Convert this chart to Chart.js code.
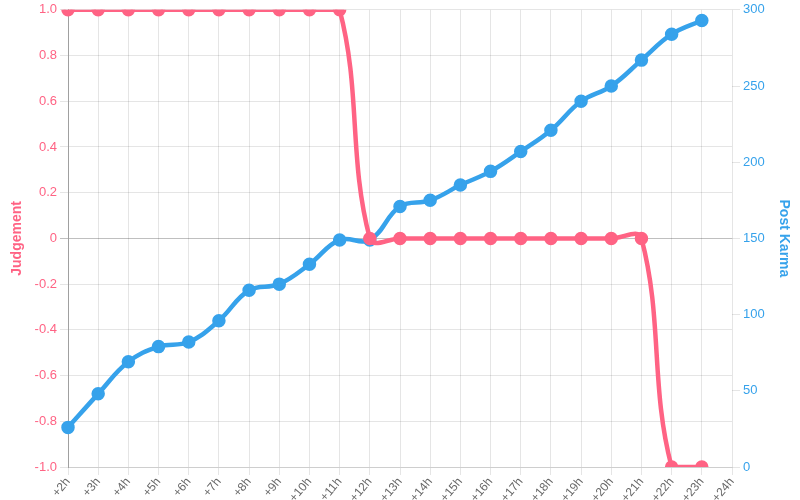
<!DOCTYPE html>
<html>
<head>
<meta charset="utf-8">
<script src="https://cdn.jsdelivr.net/npm/chart.js@4/dist/chart.umd.min.js"></script>
<style>
  html, body { margin: 0; padding: 0; background: #fff; }
  #wrap { width: 800px; height: 500px; }
</style>
</head>
<body>
<div id="wrap"><canvas id="myChart" width="800" height="500"></canvas></div>
<script>
// hours after post
const labels = ['+2h', '+3h', '+4h', '+5h', '+6h', '+7h', '+8h', '+9h', '+10h', '+11h', '+12h', '+13h',
  '+14h', '+15h', '+16h', '+17h', '+18h', '+19h', '+20h', '+21h', '+22h', '+23h', '+24h'];

const judgement = [1, 1, 1, 1, 1, 1, 1, 1, 1, 1, 0, 0, 0, 0, 0, 0, 0, 0, 0, 0, -1, -1, null];

const postKarma = [26, 48, 69, 79, 82, 96, 116, 120, 133, 149, 149, 171, 175, 185, 194, 207, 221, 240, 250, 267, 284, 293, null];

const vermelho = 'rgb(255, 99, 132)';
const azul = 'rgb(54, 162, 235)';

Chart.defaults.font.family = '"Liberation Sans", Arial, sans-serif';
Chart.defaults.font.size = 13;

const ctx = document.getElementById('myChart').getContext('2d');

new Chart(ctx, {
  type: 'line',
  data: {
    labels: labels,
    datasets: [{
      label: 'Judgement',
      data: judgement,
      yAxisID: 'y',
      borderColor: vermelho,
      backgroundColor: vermelho,
      borderWidth: 4.5,
      pointRadius: 4.5,
      tension: 0.4,
      fill: false
    }, {
      label: 'Post Karma',
      data: postKarma,
      yAxisID: 'y1',
      borderColor: azul,
      backgroundColor: azul,
      borderWidth: 4.5,
      pointRadius: 4.5,
      tension: 0.4,
      fill: false
    }]
  },
  options: {
    responsive: false,
    animation: false,
    layout: { padding: { top: 0, left: 5, right: 4 } },
    plugins: {
      legend: { display: false },
      tooltip: { enabled: false }
    },
    scales: {
      x: {
        ticks: { color: '#666', font: { size: 12 }, minRotation: 50, maxRotation: 50, autoSkip: false, padding: 0 },
        grid: { color: 'rgba(0, 0, 0, 0.1)' },
        border: { color: 'rgba(0, 0, 0, 0.1)' },
        afterFit: (scale) => { scale.height = 33; }
      },
      y: {
        position: 'left',
        min: -1,
        max: 1,
        ticks: { stepSize: 0.2, color: vermelho, font: { size: 13, lineHeight: 1.05 } },
        grid: {
          color: (c) => c.tick && c.tick.value === 0 ? 'rgba(0, 0, 0, 0.25)' : 'rgba(0, 0, 0, 0.1)'
        },
        border: { color: 'rgba(0, 0, 0, 0.3)' },
        title: { display: true, text: 'Judgement', color: vermelho, font: { size: 14, weight: 'bold' } },
        afterFit: (scale) => { scale.width = 63; }
      },
      y1: {
        position: 'right',
        min: 0,
        max: 300,
        ticks: { stepSize: 50, color: azul, font: { size: 13, lineHeight: 1.05 } },
        grid: { drawOnChartArea: false },
        border: { display: false },
        title: { display: true, text: 'Post Karma', color: azul, font: { size: 14, weight: 'bold' } },
        afterFit: (scale) => { scale.width = 64; }
      }
    }
  }
});
</script>
</body>
</html>
